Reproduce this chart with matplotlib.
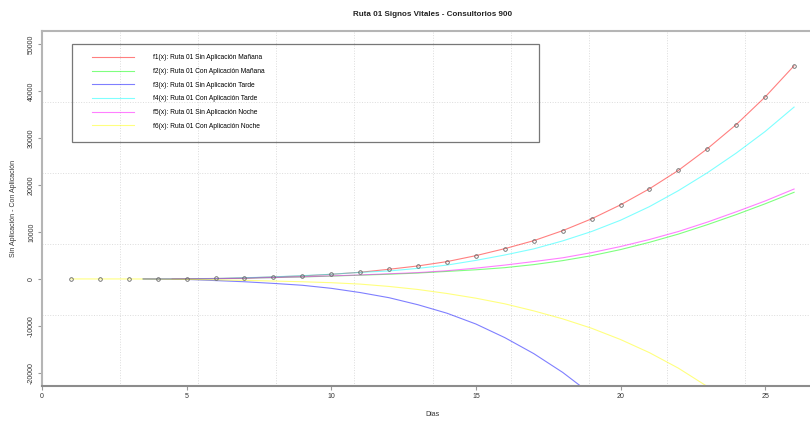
import numpy as np
import matplotlib
matplotlib.use("Agg")
import matplotlib.pyplot as plt
from matplotlib.patches import Rectangle

plt.rcParams['font.family'] = ['Liberation Sans', 'DejaVu Sans']
plt.rcParams['axes.unicode_minus'] = False

# observed points (f1 data)
dias = list(range(1, 27))
puntos = [0, 0, 0, 0, 50, 100, 200, 430, 640, 990, 1420, 2060, 2770, 3690,
          4960, 6450, 8150, 10280, 12800, 15780, 19200, 23120, 27720, 32870,
          38750, 45400]

# fitted curves
f1_x = [4.5] + list(range(5, 27))
f1_y = [20] + puntos[4:]

dias_c = [3.5] + list(range(5, 27))
f2_y = [0, 0, 50, 150, 280, 420, 600, 800, 1000, 1250, 1600, 1950, 2400, 3050,
        3900, 4950, 6250, 7800, 9550, 11550, 13700, 16000, 18450]
f4_y = [0, 0, 100, 250, 450, 700, 1000, 1400, 1700, 2250, 2950, 3950, 5100,
        6400, 8100, 10100, 12500, 15400, 18800, 22600, 26800, 31400, 36600]
f5_y = [0, 0, 50, 150, 300, 450, 650, 850, 1100, 1350, 1750, 2300, 2950, 3700,
        4500, 5600, 6900, 8400, 10100, 12100, 14300, 16600, 19150]

f3_x = [3.5] + list(range(5, 20))
f3_y = [0, -100, -350, -600, -950, -1350, -2000, -2900, -4000, -5500, -7300,
        -9600, -12500, -15900, -19900, -24600]

f6_x = list(range(1, 25))
f6_y = [0, 0, 0, -30, -100, -200, -300, -450, -600, -800, -1100, -1600, -2250,
        -3100, -4100, -5300, -6800, -8500, -10500, -12900, -15700, -19000,
        -22900, -27000]

labels = ["f1(x): Ruta 01 Sin Aplicación Mañana",
          "f2(x): Ruta 01 Con Aplicación Mañana",
          "f3(x): Ruta 01 Sin Aplicación Tarde",
          "f4(x): Ruta 01 Con Aplicación Tarde",
          "f5(x): Ruta 01 Sin Aplicación Noche",
          "f6(x): Ruta 01 Con Aplicación Noche"]
colors = ['red', 'lime', 'blue', 'cyan', 'magenta', 'yellow']

x_lim = (0, 27)
y_lim = (-22800, 52800)


def main():
    fig = plt.figure(figsize=(8.10, 4.21), dpi=100)
    ax = fig.add_axes([42/810, 35/421, 781/810, 355/421])

    # R style grid(nx=10, ny=5)
    for gx in np.linspace(x_lim[0], x_lim[1], 11)[1:-1]:
        ax.axvline(gx, color='#dcdcdc', ls=':', lw=0.7, zorder=0)
    for gy in np.linspace(y_lim[0], y_lim[1], 6)[1:-1]:
        ax.axhline(gy, color='#dcdcdc', ls=':', lw=0.7, zorder=0)

    series = [(f1_x, f1_y), (dias_c, f2_y), (f3_x, f3_y),
              (dias_c, f4_y), (dias_c, f5_y), (f6_x, f6_y)]
    handles = []
    for (xs, ys), c, lab in zip(series, colors, labels):
        h, = ax.plot(xs, ys, color=c, alpha=0.5, lw=0.8, label=lab, zorder=2)
        handles.append(h)

    ax.plot(dias, puntos, 'o', mfc='none', mec='#666666', ms=2.6, mew=0.6,
            zorder=3)

    ax.set_xlim(*x_lim)
    ax.set_ylim(*y_lim)
    ax.set_xticks(range(0, 26, 5))
    ax.set_yticks(range(-20000, 50001, 10000))
    ax.tick_params(axis='both', labelsize=5, colors='#333333', length=3,
                   width=0.8, pad=2)
    ax.tick_params(axis='both', color='#999999')
    plt.setp(ax.get_yticklabels(), rotation=90, va='center')

    for side in ['left', 'top', 'right']:
        ax.spines[side].set_color('#b5b5b5')
        ax.spines[side].set_linewidth(1.5)
    ax.spines['bottom'].set_color('#8c8c8c')
    ax.spines['bottom'].set_linewidth(1.5)

    ax.set_title("Ruta 01 Signos Vitales - Consultorios 900", fontsize=5.8,
                 fontweight='bold', pad=11, color='#222222')
    fig.text(432/810, 1 - 415/421, "Dias", fontsize=5, color='#333333',
             ha='center', va='center')
    fig.text(14/810, 1 - 208/421, "Sin Aplicación - Con Aplicación",
             fontsize=5, color='#333333', rotation=90, ha='center', va='center')

    # legend box like R's legend()
    ax.add_patch(Rectangle((0.0384, 0.6873), 0.598, 0.2761,
                           transform=ax.transAxes, fill=False,
                           edgecolor='#777777', lw=0.9, zorder=4))
    ax.legend(handles=handles, loc='upper left',
              bbox_to_anchor=(0.064, 0.934), frameon=False, fontsize=4.8,
              borderpad=0, handlelength=6.3, handletextpad=2.9,
              labelspacing=1.0, borderaxespad=0)

    fig.savefig("out.png", dpi=100)
    plt.close(fig)


if __name__ == "__main__":
    main()
